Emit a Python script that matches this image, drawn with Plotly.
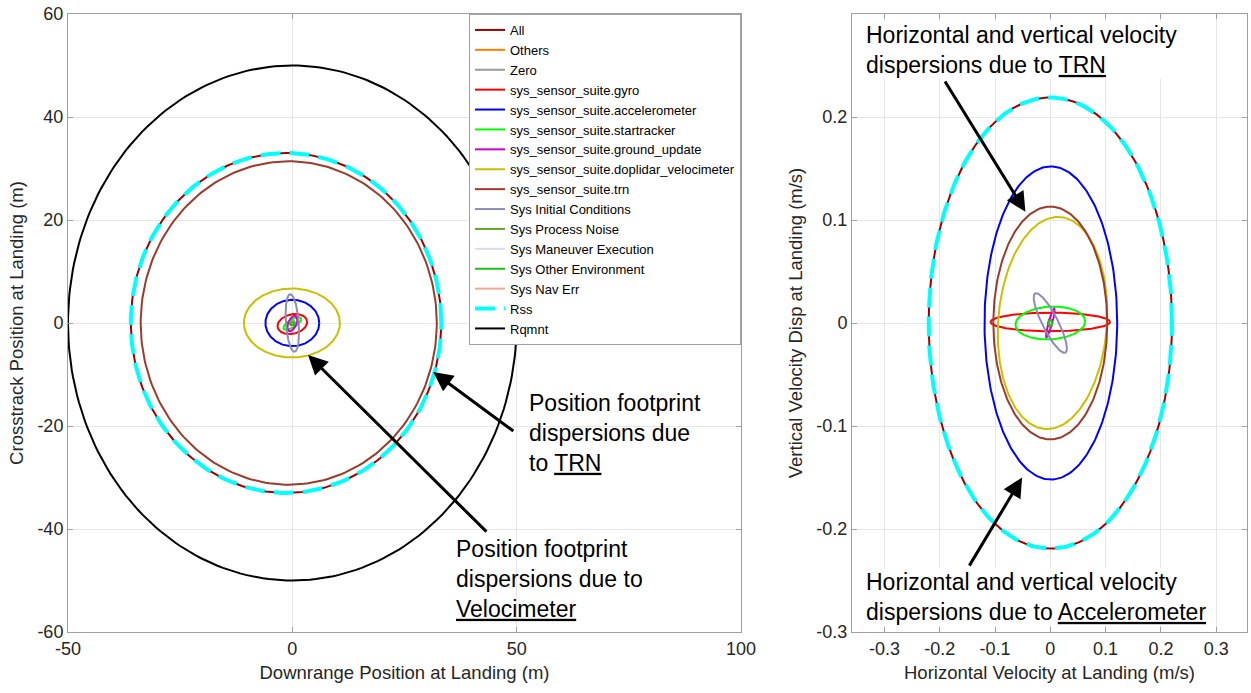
import numpy as np
import plotly.graph_objects as go

# ---------------- data ----------------
names = ["All", "Others", "Zero", "sys_sensor_suite.gyro", "sys_sensor_suite.accelerometer",
         "sys_sensor_suite.startracker", "sys_sensor_suite.ground_update",
         "sys_sensor_suite.doplidar_velocimeter", "sys_sensor_suite.trn",
         "Sys Initial Conditions", "Sys Process Noise", "Sys Maneuver Execution",
         "Sys Other Environment", "Sys Nav Err", "Rss", "Rqmnt"]
colors = ["#a00000", "#ff8000", "#9a9a9a", "#ff0000", "#0000ff", "#00ff00", "#cc00cc",
          "#c8c000", "#9b3b2b", "#8c8cb4", "#66a32e", "#d8dcf0", "#22bb22", "#f4a890",
          "#00ffff", "#000000"]

# position footprint ellipses (m): centre, half-extents, correlation
pos_cx = [-1.4, 0.0, 0.0, 0.0, 0.0, 0.0, 0.0, -0.1, -0.8, 0.0, 0.0, 0.0, 0.0, 0.0, -1.4, 0.0]
pos_cy = [0.0, 0.0, 0.0, -0.2, 0.0, -0.1, -0.1, 0.0, 0.0, 0.0, 0.0, 0.0, -0.1, 0.0, 0.0, 0.0]
pos_sx = [34.6, 0.5, 0.0, 3.3, 6.0, 2.0, 1.1, 10.7, 33.0, 1.5, 0.6, 0.3, 0.4, 0.0, 34.6, 50.0]
pos_sy = [33.0, 0.5, 0.0, 1.95, 4.5, 1.2, 1.5, 6.7, 31.4, 5.6, 0.4, 0.3, 0.3, 0.0, 33.0, 50.0]
pos_rho = [0.0, 0.0, 0.0, 0.2, 0.0, 0.7, 0.5, 0.0, 0.0, -0.3, 0.0, 0.0, 0.0, 0.0, 0.0, 0.0]

# velocity dispersion ellipses (m/s)
vel_cx = [0.0, 0.0, 0.0, 0.0, 0.001, 0.0, 0.0, 0.004, 0.0, 0.0, 0.0, 0.0, 0.0, 0.0, 0.0]
vel_cy = [0.0, 0.0, 0.0, 0.001, 0.0, 0.0, 0.0, 0.0, 0.0, 0.0, 0.0, 0.0, 0.0, 0.0, 0.0]
vel_sx = [0.22, 0.004, 0.0, 0.108, 0.12, 0.063, 0.008, 0.099, 0.103, 0.03, 0.003, 0.002, 0.003, 0.0, 0.22]
vel_sy = [0.219, 0.004, 0.0, 0.009, 0.152, 0.016, 0.014, 0.103, 0.113, 0.029, 0.003, 0.002, 0.003, 0.0, 0.219]
vel_rho = [0.0, 0.0, 0.0, 0.0, 0.0, 0.1, 0.9, 0.1, 0.0, -0.85, 0.0, 0.0, 0.0, 0.0, 0.0]

pos_xticks = [-50, 0, 50, 100]
pos_yticks = [-60, -40, -20, 0, 20, 40, 60]
vel_xticks = [-0.3, -0.2, -0.1, 0, 0.1, 0.2, 0.3]
vel_yticks = [-0.3, -0.2, -0.1, 0, 0.1, 0.2]


def ellipse(cx, cy, sx, sy, rho, n=241):
    t = np.linspace(0, 2 * np.pi, n)
    x = cx + sx * np.cos(t)
    y = cy + sy * (rho * np.cos(t) + np.sqrt(1 - rho ** 2) * np.sin(t))
    return x, y


def lab(v):
    return f"{v:g}"


W, H = 1251, 693


def fx(px):
    return px / W


def fy(py):
    return 1 - py / H


fig = go.Figure()

for i, nm in enumerate(names):
    x, y = ellipse(pos_cx[i], pos_cy[i], pos_sx[i], pos_sy[i], pos_rho[i])
    if nm == "Rss":
        line = dict(color=colors[i], width=4, dash="20px,9px")
    else:
        line = dict(color=colors[i], width=2)
    fig.add_trace(go.Scatter(x=x, y=y, mode="lines", name=nm, line=line,
                             xaxis="x", yaxis="y", hoverinfo="skip"))

for i in range(len(vel_sx)):
    nm = names[i]
    x, y = ellipse(vel_cx[i], vel_cy[i], vel_sx[i], vel_sy[i], vel_rho[i])
    if nm == "Rss":
        line = dict(color=colors[i], width=4, dash="20px,9px")
    else:
        line = dict(color=colors[i], width=2)
    fig.add_trace(go.Scatter(x=x, y=y, mode="lines", name=nm, line=line, showlegend=False,
                             xaxis="x2", yaxis="y2", hoverinfo="skip"))

FONT = "Liberation Sans, Arial, Helvetica, sans-serif"
axis_common = dict(showgrid=True, gridcolor="#e6e6e6", gridwidth=1, zeroline=False,
                   showline=True, linecolor="#a0a0a0", linewidth=1, mirror="ticks",
                   ticks="inside", ticklen=5, tickcolor="#a0a0a0", automargin=False,
                   ticklabeloverflow="allow",
                   tickfont=dict(family=FONT, size=18, color="#262626"),
                   title_font=dict(family=FONT, size=18.5, color="#262626"))

fig.update_layout(
    template="none",
    width=W, height=H, margin=dict(l=0, r=0, t=0, b=0, autoexpand=False),
    paper_bgcolor="white", plot_bgcolor="white",
    font=dict(family=FONT),
    xaxis=dict(domain=[fx(68), fx(741)], range=[-50, 100], tickvals=pos_xticks,
               ticktext=[lab(v) for v in pos_xticks], anchor="y",
               title=dict(text="Downrange Position at Landing (m)", standoff=8), **axis_common),
    yaxis=dict(domain=[fy(632), fy(14)], range=[-60, 60], tickvals=pos_yticks,
               ticktext=[lab(v) for v in pos_yticks], anchor="x",
               title=dict(text="Crosstrack Position at Landing (m)", standoff=8), **axis_common),
    xaxis2=dict(domain=[fx(852), fx(1247)], range=[-0.3586, 0.3557], tickvals=vel_xticks,
                ticktext=[lab(v) for v in vel_xticks], anchor="y2",
                title=dict(text="Horizontal Velocity at Landing (m/s)", standoff=8), **axis_common),
    yaxis2=dict(domain=[fy(632), fy(14)], range=[-0.3, 0.3], tickvals=vel_yticks,
                ticktext=[lab(v) for v in vel_yticks], anchor="x2",
                title=dict(text="Vertical Velocity Disp at Landing (m/s)", standoff=8), **axis_common),
    legend=dict(x=fx(741), y=fy(14), xanchor="right", yanchor="top",
                bgcolor="white", bordercolor="#a0a0a0", borderwidth=1,
                font=dict(family=FONT, size=13, color="#000000"), tracegroupgap=0),
    showlegend=True,
)

# arrows (head, tail) in data coordinates
arrows = [
    ("x", "y", 31.4, -9.5, 49.6, -21.2),
    ("x", "y", 3.5, -6.2, 43.6, -40.8),
    ("x2", "y2", -0.045, 0.108, -0.192, 0.236),
    ("x2", "y2", -0.051, -0.150, -0.148, -0.237),
]
for xr, yr, hx, hy, tx, ty in arrows:
    fig.add_annotation(x=hx, y=hy, ax=tx, ay=ty, xref=xr, yref=yr, axref=xr, ayref=yr,
                       text="", showarrow=True, arrowhead=2, arrowsize=1.3, arrowwidth=3,
                       arrowcolor="black")

AFONT = dict(family=FONT, size=23, color="black")
texts = [
    (528, 389, "Position footprint<br>dispersions due<br>to <u>TRN</u>", None),
    (455, 535, "Position footprint<br>dispersions due to<br><u>Velocimeter</u>", None),
    (865, 21, "Horizontal and vertical velocity<br>dispersions due to <u>TRN</u>", "white"),
    (865, 568, "Horizontal and vertical velocity<br>dispersions due to <u>Accelerometer</u>", "white"),
]
for px, py, txt, bg in texts:
    fig.add_annotation(x=fx(px), y=fy(py), xref="paper", yref="paper", xanchor="left",
                       yanchor="top", align="left", text=txt, showarrow=False, font=AFONT,
                       bgcolor=bg if bg else "rgba(0,0,0,0)", borderpad=0)

fig.write_html("out.html", config={"displayModeBar": False},
               post_script="document.body.style.margin='0px';document.body.style.overflow='hidden';")
